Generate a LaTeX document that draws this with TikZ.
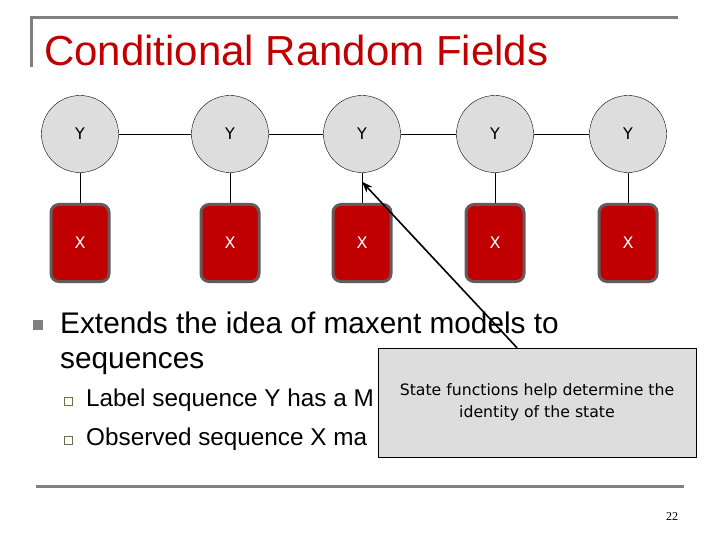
\documentclass[tikz,border=0pt]{standalone}
\usepackage{fontspec}
\setmainfont{Liberation Sans}
\newfontfamily\notefont{DejaVu Sans}
\newfontfamily\pagefont{Liberation Serif}
\usetikzlibrary{arrows.meta}
\definecolor{titlered}{RGB}{192,0,0}
\definecolor{framegray}{RGB}{128,128,128}
\definecolor{nodegray}{RGB}{221,221,221}
\definecolor{boxedge}{RGB}{100,90,90}
\definecolor{subbullet}{RGB}{110,110,70}

\begin{document}
\begin{tikzpicture}[x=1pt,y=-1pt,>={Stealth[length=11pt,width=8pt]},
  ynode/.style={draw,circle,fill=nodegray,minimum size=77pt,inner sep=0pt,font=\notefont\fontsize{16}{18}\selectfont},
  xnode/.style={draw=boxedge,line width=3pt,rounded corners=8pt,fill=titlered,text=white,minimum width=58pt,minimum height=77pt,font=\notefont\fontsize{16}{18}\selectfont},
  bodytext/.style={anchor=base west,inner sep=0pt}]
\useasboundingbox (0,0) rectangle (720,540);

% slide frame
\draw[framegray,line width=3pt] (31,67) -- (31,18) -- (678,18);
\draw[framegray,line width=3pt] (36,486) -- (684,486);
\node[bodytext,text=titlered,font=\fontsize{42}{50}\selectfont] (title) at (44,66) {Conditional Random Fields};

% the chain
\foreach \i/\x in {1/80,2/230,3/362,4/495,5/628} {
  \node[ynode] (y\i) at (\x,134) {Y};
  \node[xnode] (x\i) at (\x,243) {X};
  \draw (y\i) -- (x\i);
}
\foreach \a/\b in {1/2,2/3,3/4,4/5}
  \draw (y\a) -- (y\b);

% bullets
\fill[framegray] (33,320) rectangle (43,330);
\node[bodytext,font=\fontsize{29.8}{35}\selectfont] (ext1) at (60,333) {Extends the idea of maxent models to};
\node[bodytext,font=\fontsize{29.8}{35}\selectfont] (ext2) at (60,368) {sequences};
\draw[subbullet,fill=white,line width=0.8pt] (64,397) rectangle (72,405);
\draw[subbullet,fill=white,line width=0.8pt] (64,436) rectangle (72,444);
\node[bodytext,font=\fontsize{24.3}{29}\selectfont] (lab) at (86,406) {Label sequence Y has a M};
\node[bodytext,font=\fontsize{24.3}{29}\selectfont] (obs) at (86,445) {Observed sequence X ma};

% callout
\node[draw,fill=nodegray,minimum width=318pt,minimum height=109pt,align=center,
  font=\notefont\fontsize{15.7}{22}\selectfont] (note) at (537,402.5)
  {State functions help determine the\\identity of the state};
\coordinate (tip) at ([yshift=-9pt]y3.south);
\draw[->,line width=1.6pt] ([xshift=-20pt]note.north) -- (tip);

\node[font=\pagefont\fontsize{12}{14}\selectfont] (page) at (672,517) {22};
\end{tikzpicture}
\end{document}
